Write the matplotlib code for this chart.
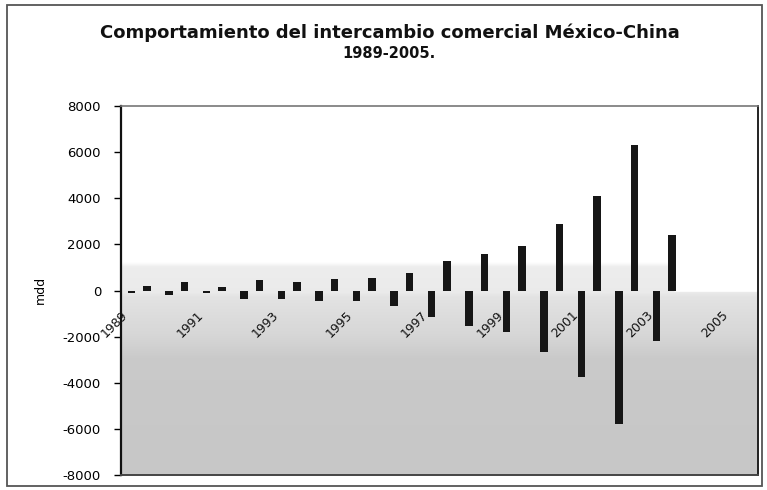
import numpy as np
import matplotlib
matplotlib.use("Agg")
import matplotlib.pyplot as plt
from matplotlib.patches import Rectangle

# Intercambio comercial México-China, millones de dólares
years = list(range(1989, 2006))
valores_negativos = [-100, -215, -90, -390, -350, -450, -450, -680, -1130, -1520,
                     -1800, -2680, -3760, -5780, -2170, np.nan, np.nan]
valores_positivos = [215, 360, 170, 450, 390, 505, 550, 770, 1270, 1590,
                     1940, 2890, 4080, 6290, 2390, np.nan, np.nan]
y_ticks = [-8000, -6000, -4000, -2000, 0, 2000, 4000, 6000, 8000]

W, H = 767, 490
fig = plt.figure(figsize=(W / 100, H / 100), dpi=100)
plt.rcParams['font.family'] = ['DejaVu Sans']

left, right, top, bottom = 120.5, 758, 106, 475
ax = fig.add_axes([left / W, (H - bottom) / H, (right - left) / W, (bottom - top) / H])

n = len(years)
x = np.arange(n)
ax.set_xlim(-0.5, n - 0.5)
ax.set_ylim(-8000, 8000)

# shaded plot-area background
gx = np.linspace(-0.5, n - 0.5, 400)
gy = np.linspace(-8000, 8000, 400)
GX, GY = np.meshgrid(gx, gy)
prof_y = [-8000, -3000, -2000, -300, -100, 1000, 1200, 8000]
prof_v = [0.78, 0.79, 0.84, 0.89, 0.92, 0.93, 1.0, 1.0]
shade = np.interp(GY, prof_y, prof_v)
band = (GY > -100) & (GX > 14.25)
shade = np.where(band, 1.0, shade)
ax.imshow(np.dstack([shade] * 3), extent=(-0.5, n - 0.5, -8000, 8000),
          origin='lower', aspect='auto', zorder=0, interpolation='bilinear')

bar_w = 0.21
off = 0.207
ax.bar(x - off, valores_negativos, width=bar_w, color='#161616', zorder=2)
ax.bar(x + off, valores_positivos, width=bar_w, color='#161616', zorder=2)

ax.set_yticks(y_ticks)
ax.set_yticklabels([str(v) for v in y_ticks], fontsize=9.5)
ax.tick_params(axis='y', direction='out', length=5, width=1, pad=9, colors='black')
ax.set_xticks([])

for i, yr in enumerate(years):
    if i % 2 == 0:
        ax.text(i - 0.65, -1450, str(yr), rotation=45, ha='center', va='center',
                fontsize=9, color='#111111', zorder=3)

ax.spines['left'].set_linewidth(1.6)
ax.spines['left'].set_color('#111111')
ax.spines['top'].set_color('#777777')
ax.spines['top'].set_linewidth(1.2)
ax.spines['right'].set_color('#222222')
ax.spines['right'].set_linewidth(1.4)
ax.spines['bottom'].set_color('#444444')
ax.spines['bottom'].set_linewidth(1.4)

fig.text(40 / W, 1 - 290 / H, 'mdd', rotation=90, ha='center', va='center', fontsize=9)

fig.text(390 / W, 1 - 38 / H, 'Comportamiento del intercambio comercial México-China',
         ha='center', va='baseline', fontsize=13, fontweight='bold', color='#111111')
fig.text(389 / W, 1 - 58 / H, '1989-2005.', ha='center', va='baseline',
         fontsize=10.5, fontweight='bold', color='#111111')

# outer chart frame
fig.patches.append(Rectangle((7 / W, 1 - 486 / H), (762 - 7) / W, (486 - 5) / H,
                             transform=fig.transFigure, fill=False,
                             edgecolor='#555555', linewidth=1.3))

fig.savefig('out.png', dpi=100)
